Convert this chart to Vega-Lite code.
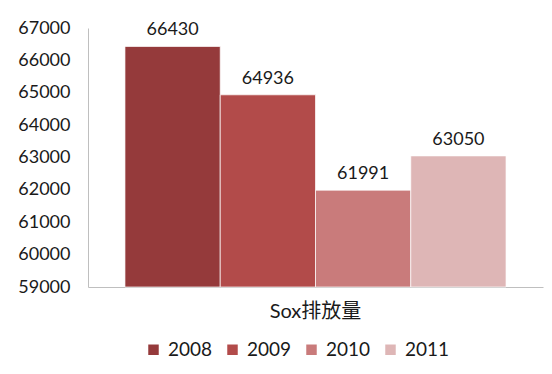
{
  "$schema": "https://vega.github.io/schema/vega-lite/v6.json",
  "autosize": {"type": "none"},
  "width": 455,
  "height": 259,
  "padding": {"left": 88, "top": 28, "right": 9, "bottom": 87},
  "background": "#ffffff",
  "config": {
    "view": {"stroke": null},
    "font": "Lato, 'Noto Sans CJK SC'"
  },
  "data": {
    "values": [
      {"category": "Sox排放量", "year": "2008", "value": 66430},
      {"category": "Sox排放量", "year": "2009", "value": 64936},
      {"category": "Sox排放量", "year": "2010", "value": 61991},
      {"category": "Sox排放量", "year": "2011", "value": 63050}
    ]
  },
  "encoding": {
    "x": {
      "field": "category",
      "type": "nominal",
      "title": null,
      "scale": {"paddingInner": 0, "paddingOuter": 0.097},
      "axis": {
        "labelAngle": 0,
        "labelFont": "Lato, 'Noto Sans CJK SC'",
        "labelFontSize": 20,
        "labelColor": "#1a1a1a",
        "labelPadding": 14,
        "ticks": false,
        "domainColor": "#bfbfbf",
        "domainWidth": 1
      }
    },
    "xOffset": {
      "field": "year",
      "type": "nominal",
      "scale": {"paddingInner": 0, "paddingOuter": 0}
    },
    "y": {
      "field": "value",
      "type": "quantitative",
      "title": null,
      "scale": {"domain": [59000, 67000], "zero": false, "nice": false},
      "axis": {
        "values": [59000, 60000, 61000, 62000, 63000, 64000, 65000, 66000, 67000],
        "format": "d",
        "grid": false,
        "ticks": false,
        "labelFont": "Lato",
        "labelFontSize": 18,
        "labelColor": "#1a1a1a",
        "labelPadding": 18,
        "domainColor": "#bfbfbf",
        "domainWidth": 1
      }
    }
  },
  "layer": [
    {
      "mark": {"type": "bar", "stroke": "#ffffff", "strokeWidth": 1, "strokeOpacity": 0.7},
      "encoding": {
        "y2": {"datum": 59000},
        "color": {
          "field": "year",
          "type": "nominal",
          "title": null,
          "scale": {
            "domain": ["2008", "2009", "2010", "2011"],
            "range": ["#953a3b", "#b24b4a", "#c97b7b", "#deb6b6"]
          },
          "legend": {
            "orient": "none",
            "direction": "horizontal",
            "legendX": 56,
            "legendY": 312,
            "symbolType": "square",
            "symbolSize": 110,
            "symbolStrokeWidth": 0,
            "labelFont": "Lato",
            "labelFontSize": 19,
            "labelColor": "#1a1a1a",
            "labelOffset": 5,
            "columnPadding": 10
          }
        }
      }
    },
    {
      "mark": {"type": "text", "baseline": "alphabetic", "dy": -11, "fontSize": 18, "font": "Lato", "color": "#1a1a1a"},
      "encoding": {
        "text": {"field": "value", "type": "quantitative", "format": "d"}
      }
    }
  ]
}
